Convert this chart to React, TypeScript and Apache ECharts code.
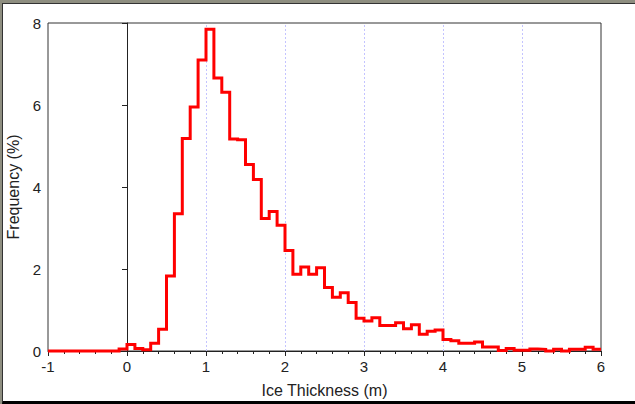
import React, { useEffect, useRef } from "react";
import * as echarts from "echarts";

// Histogram of ice thickness, bins of 0.1 m from -1.0 m to 6.0 m
const binStart = -1.0;
const binWidth = 0.1;
const frequency = [
  0, 0, 0, 0, 0, 0, 0, 0, 0, // -1.0 .. -0.2
  0.05, // -0.1
  0.16, 0.06, 0.03, 0.19, 0.53, 1.83, 3.35, 5.18, 5.95, 7.1, // 0.0 .. 0.9
  7.85, 6.66, 6.31, 5.17, 5.15, 4.55, 4.18, 3.23, 3.4, 3.07, // 1.0 .. 1.9
  2.45, 1.87, 2.05, 1.87, 2.03, 1.55, 1.31, 1.42, 1.18, 0.8, // 2.0 .. 2.9
  0.73, 0.81, 0.62, 0.62, 0.69, 0.54, 0.64, 0.41, 0.48, 0.51, // 3.0 .. 3.9
  0.28, 0.25, 0.19, 0.19, 0.22, 0.1, 0.1, 0.01, 0.06, 0.02, // 4.0 .. 4.9
  0.02, 0.05, 0.04, 0.0, 0.04, 0.0, 0.04, 0.04, 0.09, 0.04, // 5.0 .. 5.9
];
const xGridLines = [1, 2, 3, 4, 5];
const xAxisTitle = "Ice Thickness (m)";
const yAxisTitle = "Frequency (%)";

const FONT = "'Liberation Sans', Arial, sans-serif";

export default function App() {
  const ref = useRef<HTMLDivElement>(null);

  useEffect(() => {
    if (!ref.current) return;
    const chart = echarts.init(ref.current, undefined, { renderer: "svg" });

    const points: [number, number][] = frequency.map((v, i) => [
      Math.round((binStart + i * binWidth) * 10) / 10,
      v,
    ]);
    const lastEdge = Math.round((binStart + frequency.length * binWidth) * 10) / 10;
    points.push([lastEdge, frequency[frequency.length - 1]]);

    chart.setOption({
      animation: false,
      backgroundColor: "#ffffff",
      grid: {
        left: 45,
        right: 34,
        top: 19,
        bottom: 50,
        containLabel: false,
        outerBoundsMode: "none",
        show: true,
        borderColor: "#333",
        borderWidth: 1,
        backgroundColor: "#ffffff",
      },
      xAxis: {
        type: "value",
        min: -1,
        max: 6,
        interval: 1,
        name: xAxisTitle,
        nameLocation: "middle",
        nameGap: 31,
        nameTextStyle: { fontFamily: FONT, fontSize: 16, color: "#222" },
        axisLine: { show: true, onZero: false, lineStyle: { color: "#222", width: 1 } },
        axisTick: { show: true, inside: false, length: 5, lineStyle: { color: "#222" } },
        minorTick: { show: true, splitNumber: 5, length: 3, lineStyle: { color: "#222" } },
        axisLabel: { fontFamily: FONT, fontSize: 15, color: "#222", margin: 8 },
        splitLine: { show: false },
      },
      yAxis: {
        type: "value",
        min: 0,
        max: 8,
        interval: 2,
        name: yAxisTitle,
        nameLocation: "middle",
        nameGap: 26,
        nameTextStyle: { fontFamily: FONT, fontSize: 16, color: "#222" },
        axisLine: { show: true, lineStyle: { color: "#222", width: 1 } },
        axisTick: { show: true, inside: false, length: 5, lineStyle: { color: "#222" } },
        axisLabel: { fontFamily: FONT, fontSize: 15, color: "#222", margin: 7 },
        splitLine: { show: false },
      },
      series: [
        {
          type: "line",
          name: "grid",
          data: [],
          silent: true,
          markLine: {
            silent: true,
            symbol: "none",
            label: { show: false },
            lineStyle: { color: "#c4c4ff", type: [2, 2], width: 1 },
            data: xGridLines.map((x) => ({ xAxis: x })),
          },
        },
        {
          type: "line",
          name: "zero",
          data: [],
          silent: true,
          markLine: {
            silent: true,
            symbol: "none",
            label: { show: false },
            lineStyle: { color: "#222", type: "solid", width: 1 },
            data: [{ xAxis: 0 }],
          },
        },
        {
          type: "line",
          name: "Frequency",
          data: points,
          step: "end",
          showSymbol: false,
          symbol: "none",
          clip: false,
          z: 5,
          lineStyle: { color: "#ff0000", width: 3, join: "miter", cap: "butt" },
        },
      ],
    });

    return () => chart.dispose();
  }, []);

  return (
    <div
      style={{
        position: "fixed",
        left: 0,
        top: 0,
        width: 635,
        height: 404,
        background: "#8e8e80",
        boxSizing: "border-box",
      }}
    >
      <div
        style={{
          position: "absolute",
          left: 2,
          top: 3,
          width: 633,
          height: 401,
          background: "#ffffff",
          borderTop: "1px solid #333",
          borderLeft: "1px solid #333",
          borderBottom: "3px solid #000",
          boxSizing: "border-box",
        }}
      >
        <div ref={ref} style={{ position: "absolute", left: 0, top: 0, width: 632, height: 397 }} />
      </div>
    </div>
  );
}
